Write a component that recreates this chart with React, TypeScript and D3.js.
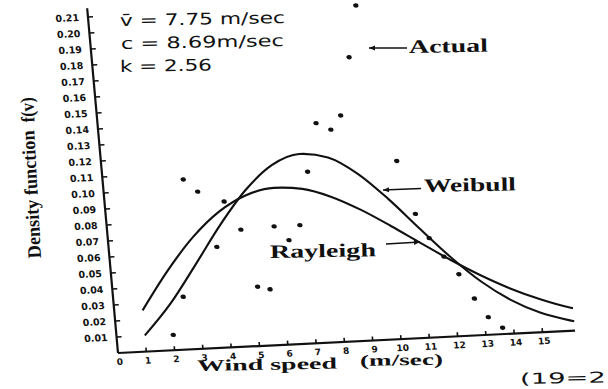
import { useEffect, useRef } from "react";
import * as d3 from "d3";

// wind speed (m/sec) where the fitted curves were read
const speeds = [1, 2, 3, 4, 5, 6, 7, 8, 9, 10, 11, 12, 13, 14, 15, 16, 16.15];
const weibull = [0.0101, 0.0291, 0.0525, 0.0766, 0.0975, 0.1122, 0.1183, 0.1153, 0.1042, 0.0875, 0.0683, 0.0496, 0.0334, 0.0209, 0.0121, 0.0065, 0.0058];
const rayleigh = [0.0258, 0.0496, 0.0698, 0.0849, 0.0943, 0.098, 0.0965, 0.0906, 0.0816, 0.0707, 0.0591, 0.0477, 0.0373, 0.0282, 0.0207, 0.0147, 0.014];

// measured ("Actual") points
const actualSpeed = [2.0, 2.47, 2.84, 3.31, 3.81, 4.21, 4.71, 5.12, 5.55, 5.89, 6.37, 6.8, 7.24, 7.69, 8.19, 8.58, 9.06, 9.46, 10.41, 10.9, 11.31, 11.77, 12.24, 12.71, 13.14, 13.61];
const actualDensity = [0.0096, 0.033, 0.106, 0.098, 0.063, 0.091, 0.073, 0.037, 0.035, 0.074, 0.065, 0.074, 0.107, 0.137, 0.1325, 0.141, 0.177, 0.209, 0.111, 0.0775, 0.062, 0.05, 0.0386, 0.023, 0.011, 0.004];

const xTicks = [0, 1, 2, 3, 4, 5, 6, 7, 8, 9, 10, 11, 12, 13, 14, 15];
const yTicks = [0.01, 0.02, 0.03, 0.04, 0.05, 0.06, 0.07, 0.08, 0.09, 0.1, 0.11, 0.12, 0.13, 0.14, 0.15, 0.16, 0.17, 0.18, 0.19, 0.2, 0.21];

const serif = "'Liberation Serif', 'DejaVu Serif', serif";
const sans = "'DejaVu Sans', sans-serif";

export default function App() {
  const svgRef = useRef<SVGSVGElement>(null);

  useEffect(() => {
    if (!svgRef.current) return;
    const svg = d3.select(svgRef.current);
    svg.selectAll("*").remove();

    svg.append("rect").attr("width", 608).attr("height", 389).attr("fill", "#fff");

    const x = d3.scaleLinear().domain([0, 16]).range([0, 452.8]);
    const y = d3.scaleLinear().domain([0, 0.21]).range([0, -336]);

    // the scanned plot is slightly skewed
    const g = svg
      .append("g")
      .attr("transform", "matrix(1,-0.0491,0.0894,1,118,353)");

    // axes
    g.append("line")
      .attr("x1", 0).attr("y1", 0)
      .attr("x2", x(16.15)).attr("y2", 0)
      .attr("stroke", "#111").attr("stroke-width", 2.2);
    g.append("line")
      .attr("x1", 0).attr("y1", 0)
      .attr("x2", 0).attr("y2", y(0.2155))
      .attr("stroke", "#111").attr("stroke-width", 2.2);

    // y ticks
    g.selectAll(".ytick")
      .data(yTicks)
      .enter()
      .append("line")
      .attr("x1", 0).attr("x2", 5)
      .attr("y1", (d) => y(d)).attr("y2", (d) => y(d))
      .attr("stroke", "#111").attr("stroke-width", 1.6);
    g.selectAll(".ylab")
      .data(yTicks)
      .enter()
      .append("text")
      .attr("x", -9)
      .attr("y", (d) => y(d) + 3.5)
      .attr("text-anchor", "end")
      .style("font-family", sans)
      .style("font-weight", "bold")
      .style("font-size", "9.5px")
      .attr("fill", "#111")
      .text((d) => d3.format(".2f")(d));

    // x ticks
    g.selectAll(".xtick")
      .data(xTicks.filter((d) => d > 0))
      .enter()
      .append("line")
      .attr("x1", (d) => x(d)).attr("x2", (d) => x(d))
      .attr("y1", 0).attr("y2", -4)
      .attr("stroke", "#111").attr("stroke-width", 1.6);
    g.selectAll(".xlab")
      .data(xTicks)
      .enter()
      .append("text")
      .attr("x", (d) => x(d) + 1)
      .attr("y", 12)
      .attr("text-anchor", "middle")
      .style("font-family", sans)
      .style("font-weight", "bold")
      .style("font-size", "9px")
      .attr("fill", "#111")
      .text((d) => String(d));

    // fitted curves
    const line = d3
      .line<number>()
      .x((_, i) => x(speeds[i]))
      .y((d) => y(d))
      .curve(d3.curveMonotoneX);
    [weibull, rayleigh].forEach((s) => {
      g.append("path")
        .attr("d", line(s))
        .attr("fill", "none")
        .attr("stroke", "#111")
        .attr("stroke-width", 2.1);
    });

    // actual points
    g.selectAll(".dot")
      .data(actualDensity)
      .enter()
      .append("ellipse")
      .attr("cx", (_, i) => x(actualSpeed[i]))
      .attr("cy", (d) => y(d))
      .attr("rx", 2.7)
      .attr("ry", 2.2)
      .attr("fill", "#111");

    // y axis title
    const yTitle = (t: string, px: number, py: number, len: number) =>
      svg.append("text")
        .attr("transform", `translate(${px},${py}) rotate(-93)`)
        .attr("textLength", len)
        .attr("lengthAdjust", "spacingAndGlyphs")
        .style("font-family", serif)
        .style("font-weight", "bold")
        .style("font-size", "19px")
        .attr("fill", "#111")
        .text(t);
    yTitle("Density function", 41, 258, 128);
    yTitle("f(v)", 34.5, 122, 25);

    // annotations
    const note = (t: string, px: number, py: number, len: number, size: number, font: string, bold: boolean) =>
      svg.append("text")
        .attr("transform", `translate(${px},${py}) rotate(-1)`)
        .attr("textLength", len)
        .attr("lengthAdjust", "spacingAndGlyphs")
        .style("font-family", font)
        .style("font-weight", bold ? "bold" : "normal")
        .style("font-size", `${size}px`)
        .attr("fill", "#111")
        .text(t);

    note("v\u0304 = 7.75 m/sec", 120, 26, 165, 16, sans, false);
    note("c = 8.69m/sec", 121, 49, 163, 16, sans, false);
    note("k = 2.56", 120, 72, 92, 16, sans, false);

    note("Actual", 409, 53, 79, 19, serif, true);
    note("Weibull", 424, 192, 92, 19, serif, true);
    note("Rayleigh", 270, 258, 106, 19, serif, true);
    note("Wind speed", 197, 371, 140, 16, serif, true);
    note("(m/sec)", 360, 366, 83, 16, serif, true);
    note("(19=2", 520, 384, 86, 15, sans, false);

    // pointer lines
    const pointer = (x1: number, y1: number, x2: number, y2: number) => {
      svg.append("line")
        .attr("x1", x1).attr("y1", y1).attr("x2", x2).attr("y2", y2)
        .attr("stroke", "#111").attr("stroke-width", 1.5);
      const a = Math.atan2(y1 - y2, x1 - x2);
      const h = 6;
      const w = 2.6;
      const p = [
        [x1, y1],
        [x1 - h * Math.cos(a) - w * Math.sin(a), y1 - h * Math.sin(a) + w * Math.cos(a)],
        [x1 - h * Math.cos(a) + w * Math.sin(a), y1 - h * Math.sin(a) - w * Math.cos(a)],
      ];
      svg.append("polygon")
        .attr("points", p.map((q) => q.join(",")).join(" "))
        .attr("fill", "#111");
    };
    pointer(369, 48, 407, 48);
    pointer(383, 190, 421, 188.5);
    pointer(420, 242, 386, 244);
  }, []);

  return (
    <svg
      ref={svgRef}
      width={608}
      height={389}
      style={{ position: "absolute", left: 0, top: 0 }}
    ></svg>
  );
}
